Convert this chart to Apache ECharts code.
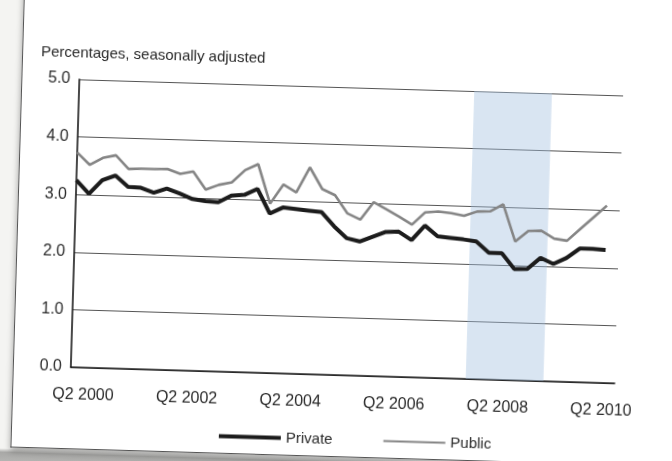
<!DOCTYPE html>
<html>
<head>
<meta charset="utf-8">
<script src="https://cdn.jsdelivr.net/npm/echarts@6/dist/echarts.min.js"></script>
<style>
  html, body { margin: 0; padding: 0; width: 672px; height: 461px; overflow: hidden; background: #d6d6d4; }
  #paper { position: absolute; left: -24px; top: -30px; width: 720px; height: 521px;
           transform: rotate(1.7deg); transform-origin: 360px 260.5px;
           background: linear-gradient(to bottom, #f4f4f2 0px, #f4f4f2 488px, #a8a8a6 492px, #cfcfcd 521px); }
  #frame { position: absolute; left: 41px; top: -20px; width: 720px; height: 507px; box-sizing: border-box;
           background: #ffffff; border-left: 1.5px solid #555; border-bottom: 1.5px solid #555;
           box-shadow: 0 3px 6px rgba(0,0,0,0.35); }
  #chart { position: absolute; left: 24px; top: 30px; width: 672px; height: 461px; }
</style>
</head>
<body>
<div id="paper"><div id="frame"></div><div id="chart"></div></div>
<script>
// Quarters with data (Q1 2000 .. Q2 2010)
const quarters = [
  'Q1 2000','Q2 2000','Q3 2000','Q4 2000',
  'Q1 2001','Q2 2001','Q3 2001','Q4 2001',
  'Q1 2002','Q2 2002','Q3 2002','Q4 2002',
  'Q1 2003','Q2 2003','Q3 2003','Q4 2003',
  'Q1 2004','Q2 2004','Q3 2004','Q4 2004',
  'Q1 2005','Q2 2005','Q3 2005','Q4 2005',
  'Q1 2006','Q2 2006','Q3 2006','Q4 2006',
  'Q1 2007','Q2 2007','Q3 2007','Q4 2007',
  'Q1 2008','Q2 2008','Q3 2008','Q4 2008',
  'Q1 2009','Q2 2009','Q3 2009','Q4 2009',
  'Q1 2010','Q2 2010'
];
// axis runs one quarter past the last observation
const axisExtra = ['Q3 2010'];
const tickLabels = ['Q2 2000','Q2 2002','Q2 2004','Q2 2006','Q2 2008','Q2 2010'];
const yTicks = [0, 1, 2, 3, 4, 5];

const privateRates = [
  3.25, 3.02, 3.26, 3.35, 3.16, 3.15, 3.07, 3.15, 3.07, 2.98,
  2.95, 2.94, 3.06, 3.08, 3.19, 2.77, 2.88, 2.86, 2.84, 2.82,
  2.58, 2.38, 2.33, 2.42, 2.51, 2.52, 2.38, 2.64, 2.46, 2.44,
  2.42, 2.39, 2.20, 2.20, 1.93, 1.94, 2.14, 2.04, 2.15, 2.32,
  2.32, 2.31
];
const publicRates = [
  3.73, 3.52, 3.65, 3.70, 3.47, 3.48, 3.48, 3.49, 3.41, 3.46,
  3.15, 3.24, 3.29, 3.51, 3.62, 2.94, 3.28, 3.15, 3.59, 3.22,
  3.12, 2.81, 2.71, 3.02, 2.90, 2.78, 2.65, 2.87, 2.89, 2.87,
  2.83, 2.91, 2.92, 3.05, 2.41, 2.60, 2.61, 2.48, 2.45, 2.66,
  2.87, 3.08
];
const recession = ['Q4 2007', 'Q2 2009'];

const allQuarters = quarters.concat(axisExtra);
const FONT = "'Liberation Sans', Arial, Helvetica, sans-serif";
const idx = q => allQuarters.indexOf(q);

const chart = echarts.init(document.getElementById('chart'), null, { renderer: 'canvas' });
chart.setOption({
  animation: false,
  backgroundColor: 'transparent',
  textStyle: { fontFamily: FONT },
  title: {
    text: 'Percentages, seasonally adjusted',
    left: 31, top: 48,
    textStyle: { fontFamily: FONT, fontSize: 15, fontWeight: 'normal', color: '#2a2a2a' }
  },
  legend: {
    data: [
      { name: 'Private', lineStyle: { width: 4, color: '#1c1c1c' } },
      { name: 'Public', lineStyle: { width: 1.8, color: '#858585' } }
    ],
    left: 218, top: 427,
    itemWidth: 62, itemHeight: 10, itemGap: 50,
    itemStyle: { opacity: 0 },
    textStyle: { fontFamily: FONT, fontSize: 15, color: '#2a2a2a' }
  },
  grid: { left: 75, right: 53, top: 87, bottom: 86, containLabel: false },
  xAxis: {
    type: 'value',
    min: 0, max: allQuarters.length - 1,
    splitLine: { show: false },
    axisTick: { show: false },
    axisLine: { show: true, lineStyle: { color: '#1a1a1a', width: 1.6 } },
    axisLabel: {
      customValues: tickLabels.map(idx),
      formatter: v => allQuarters[Math.round(v)],
      margin: 20,
      fontFamily: FONT, fontSize: 16, color: '#2a2a2a'
    }
  },
  yAxis: {
    type: 'value',
    min: yTicks[0], max: yTicks[yTicks.length - 1], interval: 1,
    axisLine: { show: true, lineStyle: { color: '#1a1a1a', width: 1.6 } },
    axisTick: { show: false },
    splitLine: { show: true, lineStyle: { color: '#555', width: 1 } },
    axisLabel: {
      formatter: v => v.toFixed(1),
      margin: 9,
      fontFamily: FONT, fontSize: 16, color: '#2a2a2a'
    }
  },
  series: [
    {
      name: 'recession', type: 'line', data: [], z: 1, silent: true,
      markArea: {
        silent: true,
        itemStyle: { color: 'rgba(165,192,225,0.42)' },
        data: [[{ xAxis: idx(recession[0]) - 0.5 }, { xAxis: idx(recession[1]) - 0.5 }]]
      }
    },
    {
      name: 'Public', type: 'line', z: 3,
      data: publicRates.map((v, i) => [i, v]),
      showSymbol: false, symbol: 'none',
      lineStyle: { color: '#858585', width: 2.6 },
      itemStyle: { color: '#858585' }
    },
    {
      name: 'Private', type: 'line', z: 4,
      data: privateRates.map((v, i) => [i, v]),
      showSymbol: false, symbol: 'none',
      lineStyle: { color: '#1c1c1c', width: 4 },
      itemStyle: { color: '#1c1c1c' }
    }
  ]
});
</script>
</body>
</html>
